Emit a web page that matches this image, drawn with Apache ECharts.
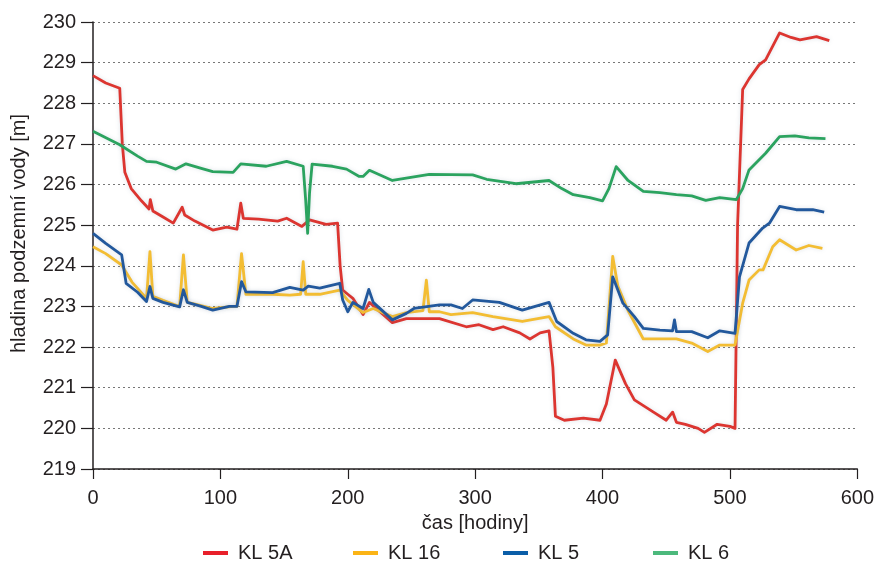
<!DOCTYPE html>
<html>
<head>
<meta charset="utf-8">
<script src="https://cdn.jsdelivr.net/npm/echarts@6/dist/echarts.min.js"></script>
<style>html,body{margin:0;padding:0;background:#fff}#c{width:877px;height:562px}</style>
</head>
<body>
<div id="c"></div>
<script>
// ---- data ----
const seriesNames = ['KL 5A', 'KL 16', 'KL 5', 'KL 6'];
const yTicks = [219, 220, 221, 222, 223, 224, 225, 226, 227, 228, 229, 230];
const xTicks = [0, 100, 200, 300, 400, 500, 600];

const kl5aT = [0, 10, 21, 23, 25, 30, 38, 44, 45, 47, 55, 63, 70, 72, 80, 94, 105, 113, 116, 118, 130, 145, 152, 164, 170, 183, 192, 194, 196, 200, 204, 212, 217, 235, 246, 260, 272, 293, 303, 314, 322, 335, 343, 351, 358, 361, 363, 370, 385, 398, 403, 410, 418, 425, 440, 450, 455, 458, 465, 475, 480, 490, 500, 504, 506, 510, 515, 523, 528, 539, 548, 555, 568, 578];
const kl5aV = [228.68, 228.5, 228.37, 227.0, 226.3, 225.9, 225.6, 225.4, 225.63, 225.35, 225.2, 225.05, 225.44, 225.25, 225.1, 224.88, 224.95, 224.9, 225.54, 225.17, 225.15, 225.1, 225.17, 224.97, 225.13, 225.02, 225.05, 224.0, 223.4, 223.3, 223.2, 222.8, 223.1, 222.6, 222.7, 222.7, 222.7, 222.5, 222.55, 222.43, 222.5, 222.35, 222.2, 222.35, 222.4, 221.5, 220.3, 220.2, 220.25, 220.2, 220.6, 221.68, 221.1, 220.7, 220.4, 220.2, 220.4, 220.15, 220.1, 220.0, 219.9, 220.1, 220.05, 220.0, 225.0, 228.34, 228.6, 228.95, 229.07, 229.73, 229.62, 229.56, 229.64, 229.54];

const kl16T = [0, 10, 22.5, 30.6, 42, 44.7, 47, 55, 68, 71, 74, 81, 94, 110, 113, 116.6, 120, 141, 154.5, 163, 165, 167, 178, 193.7, 200, 212, 220, 235, 246, 259, 261.7, 264, 272, 281, 298, 314, 337, 358, 363, 377, 387, 398, 403, 408, 412, 420, 432, 445, 458, 470, 482.6, 492, 504, 510, 515, 523, 526, 533.6, 539, 552, 562, 572.6];
const kl16V = [224.47, 224.3, 224.02, 223.6, 223.2, 224.35, 223.25, 223.15, 223.0, 224.27, 223.1, 223.05, 222.95, 223.0, 223.0, 224.3, 223.3, 223.3, 223.28, 223.3, 224.1, 223.3, 223.3, 223.4, 223.15, 222.85, 222.95, 222.75, 222.85, 222.9, 223.65, 222.87, 222.87, 222.8, 222.85, 222.75, 222.63, 222.75, 222.5, 222.2, 222.05, 222.05, 222.1, 224.23, 223.5, 222.9, 222.2, 222.2, 222.2, 222.1, 221.89, 222.05, 222.05, 223.08, 223.65, 223.9, 223.9, 224.47, 224.64, 224.39, 224.5, 224.43];

const kl5T = [0, 10, 22.5, 26, 35, 42, 44.7, 47, 55, 68, 71, 74, 85, 94, 107, 113, 116.6, 120, 141, 154.5, 165, 169, 178, 193.7, 196, 200, 204, 212, 216.5, 220, 235, 246, 252, 272, 281, 290, 298, 319, 337, 358, 364, 377, 387, 398, 404, 408, 416, 425, 432, 445, 455, 456.5, 458, 470, 482.6, 492, 504, 507.5, 515, 525.7, 531, 539, 552, 565, 574];
const kl5V = [224.8, 224.55, 224.27, 223.57, 223.35, 223.12, 223.49, 223.2, 223.1, 222.99, 223.41, 223.1, 223.0, 222.91, 223.0, 223.0, 223.61, 223.36, 223.34, 223.47, 223.4, 223.5, 223.45, 223.57, 223.16, 222.87, 223.1, 222.95, 223.42, 223.1, 222.67, 222.83, 222.95, 223.04, 223.04, 222.95, 223.16, 223.1, 222.91, 223.1, 222.63, 222.34, 222.18, 222.14, 222.3, 223.73, 223.08, 222.75, 222.46, 222.42, 222.4, 222.67, 222.38, 222.38, 222.23, 222.4, 222.34, 223.73, 224.56, 224.93, 225.05, 225.46, 225.38, 225.38, 225.32];

const kl6T = [0, 21, 35, 42, 50, 65, 73, 85, 94, 110, 116, 136, 152, 165, 167, 168.5, 170, 172, 188, 199, 209, 212, 217, 235, 264, 298, 309, 332, 358, 368, 377, 390, 400, 405, 410.7, 420, 432, 445, 458, 470, 481, 492, 505, 510, 515, 528, 539, 551, 562, 575];
const kl6V = [227.31, 226.98, 226.7, 226.57, 226.55, 226.38, 226.51, 226.4, 226.32, 226.3, 226.51, 226.45, 226.57, 226.45, 225.6, 224.8, 225.8, 226.5, 226.45, 226.38, 226.2, 226.2, 226.35, 226.1, 226.25, 226.24, 226.13, 226.02, 226.1, 225.9, 225.75, 225.68, 225.6, 225.9, 226.44, 226.1, 225.83, 225.8, 225.75, 225.72, 225.61, 225.68, 225.63, 225.9, 226.36, 226.77, 227.18, 227.2, 227.15, 227.13];

const lineColors = ['#dc3530', '#f3bd33', '#22589c', '#2ba35f'];
const legendColors = ['#e8202a', '#fbb416', '#0b5ea8', '#4cb97c'];
const zip = (t, v) => t.map((x, i) => [x, v[i]]);
const allData = [zip(kl5aT, kl5aV), zip(kl16T, kl16V), zip(kl5T, kl5V), zip(kl6T, kl6V)];

const FONT = "'Liberation Sans', Arial, Helvetica, sans-serif";
const TXT = '#231f20';
const chart = echarts.init(document.getElementById('c'), null, {renderer: 'canvas'});
chart.setOption({
  animation: false,
  backgroundColor: '#fff',
  textStyle: {fontFamily: FONT},
  grid: {left: 93, right: 19, top: 22, bottom: 93, containLabel: false},
  legend: seriesNames.map((n, i) => ({
    left: 198 + 150 * i, top: 538,
    itemWidth: 25, itemHeight: 4, itemGap: 0,
    icon: 'rect',
    data: [{name: n, itemStyle: {color: legendColors[i]}}],
    textStyle: {fontFamily: FONT, fontSize: 20, color: TXT, padding: [0, 0, 0, 5]}
  })),
  xAxis: {
    type: 'value', min: xTicks[0], max: xTicks[xTicks.length - 1], interval: 100,
    name: 'čas [hodiny]', nameLocation: 'middle', nameGap: 44,
    nameTextStyle: {fontFamily: FONT, fontSize: 20, color: TXT},
    axisLine: {lineStyle: {color: TXT, width: 1.5}},
    axisTick: {show: true, length: 10, lineStyle: {color: TXT, width: 1.2}},
    axisLabel: {fontFamily: FONT, fontSize: 20, color: TXT, margin: 19},
    splitLine: {show: false}
  },
  yAxis: {
    type: 'value', min: yTicks[0], max: yTicks[yTicks.length - 1], interval: 1,
    name: 'hladina podzemní vody [m]', nameLocation: 'middle', nameGap: 64,
    nameTextStyle: {fontFamily: FONT, fontSize: 20, color: TXT, padding: [0, 0, 0, 24]},
    axisLine: {show: true, lineStyle: {color: TXT, width: 1.5}},
    axisTick: {show: true, length: 12, lineStyle: {color: TXT, width: 1.2}},
    axisLabel: {fontFamily: FONT, fontSize: 20, color: TXT, margin: 17},
    splitLine: {show: true, lineStyle: {color: '#777', type: [2, 3], width: 1}}
  },
  series: seriesNames.map((n, i) => ({
    name: n, type: 'line', data: allData[i], symbol: 'none',
    color: legendColors[i],
    lineStyle: {width: 2.8, color: lineColors[i], join: 'round',
      shadowColor: 'rgba(120,140,160,0.25)', shadowBlur: 4},
    z: 2 + i
  }))
});
</script>
</body>
</html>
